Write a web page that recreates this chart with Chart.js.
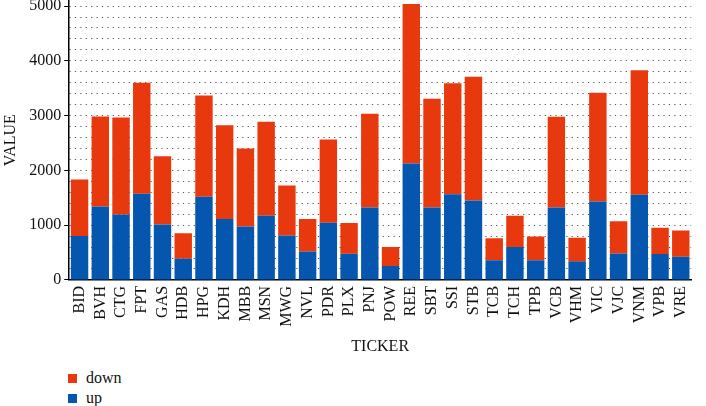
<!DOCTYPE html>
<html>
<head>
<meta charset="utf-8">
<script src="https://cdn.jsdelivr.net/npm/chart.js@4"></script>
<style>
  body { margin: 0; background: #fff; font-family: 'Liberation Serif', serif; overflow: hidden; }
  #wrap { position: relative; width: 706px; height: 368px; margin-top: -12px; }
  #legend { position: absolute; left: 68px; top: 368px; font-size: 16px; color: #111; }
  #legend div { display: flex; align-items: center; height: 20px; }
  #legend span.box { display: inline-block; width: 9px; height: 9px; margin-right: 9px; }
</style>
</head>
<body>
<div id="wrap"><canvas id="chart"></canvas></div>
<div id="legend"></div>
<script>
const tickers = ['BID','BVH','CTG','FPT','GAS','HDB','HPG','KDH','MBB','MSN','MWG','NVL','PDR','PLX','PNJ','POW',
  'REE','SBT','SSI','STB','TCB','TCH','TPB','VCB','VHM','VIC','VJC','VNM','VPB','VRE'];
const upValues = [800, 1341, 1195, 1573, 1013, 386, 1518, 1110, 976, 1171, 812, 520, 1043, 477, 1323, 252,
  2126, 1323, 1566, 1451, 361, 599, 361, 1323, 343, 1432, 484, 1555, 471, 423];
const downValues = [1034, 1643, 1770, 2025, 1247, 468, 1849, 1715, 1424, 1715, 912, 590, 1521, 560, 1709, 347,
  2914, 1983, 2026, 2257, 402, 572, 433, 1655, 427, 1984, 589, 2274, 482, 480];
const yTicks = [0, 1000, 2000, 3000, 4000, 5000];

const RED = '#E8380D';
const BLUE = '#0456AE';

const legendEl = document.getElementById('legend');
[['down', RED], ['up', BLUE]].forEach(([name, color]) => {
  const row = document.createElement('div');
  row.innerHTML = `<span class="box" style="background:${color}"></span>${name}`;
  legendEl.appendChild(row);
});

const font = { family: 'Liberation Serif', size: 16 };

new Chart(document.getElementById('chart'), {
  type: 'bar',
  data: {
    labels: tickers,
    datasets: [
      { label: 'up', data: upValues, backgroundColor: BLUE, barPercentage: 0.84, categoryPercentage: 1 },
      { label: 'down', data: downValues, backgroundColor: RED, barPercentage: 0.84, categoryPercentage: 1 }
    ]
  },
  options: {
    responsive: true,
    maintainAspectRatio: false,
    animation: false,
    layout: { padding: { top: 0, right: 1, left: 1, bottom: 0 } },
    plugins: { legend: { display: false }, tooltip: { enabled: false } },
    scales: {
      x: {
        stacked: true,
        grid: { display: false, drawTicks: false },
        border: { color: '#000', width: 1.5 },
        ticks: { color: '#111', font, minRotation: 90, maxRotation: 90, padding: 6, autoSkip: false },
        title: { display: true, text: 'TICKER', color: '#111', font, padding: { top: 4, bottom: 0 } }
      },
      y: {
        stacked: true,
        min: 0,
        max: 5100,
        border: { color: '#000', width: 1.5, dash: [1.2, 4.2] },
        afterBuildTicks: axis => {
          const t = [];
          for (let v = 0; v <= 5000; v += 200) t.push({ value: v });
          axis.ticks = t;
        },
        grid: {
          color: ctx => (ctx.tick && ctx.tick.value === 0) ? 'transparent' : '#555',
          lineWidth: 1,
          tickLength: 5,
          tickColor: ctx => yTicks.includes(ctx.tick.value) ? '#000' : 'transparent',
          tickBorderDash: [],
        },
        ticks: {
          color: '#111', font, padding: 3, autoSkip: false,
          callback: v => yTicks.includes(v) ? String(v) : ''
        },
        title: { display: true, text: 'VALUE', color: '#111', font, padding: { top: 0, bottom: 6 } }
      }
    }
  }
});
</script>
</body>
</html>
